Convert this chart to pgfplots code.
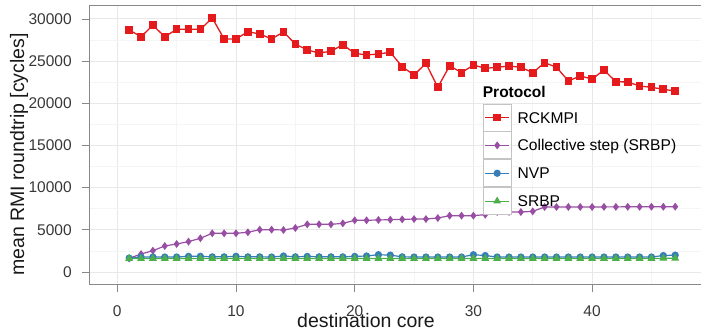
\documentclass[border=0pt]{standalone}
\usepackage{pgfplots}
\pgfplotsset{compat=1.18}
\usepackage{fontspec}
\setmainfont{Liberation Sans}
\definecolor{cRed}{HTML}{E41A1C}
\definecolor{cPurple}{HTML}{984EA3}
\definecolor{cBlue}{HTML}{377EB8}
\definecolor{cGreen}{HTML}{4DAF4A}
\definecolor{cBorder}{HTML}{888888}
\definecolor{cKey}{HTML}{C4C4C4}

\pgfplotstableread{
x y
1 28700
2 27900
3 29250
4 27900
5 28770
6 28770
7 28770
8 30115
9 27630
10 27630
11 28490
12 28220
13 27630
14 28460
15 27030
16 26320
17 25970
18 26170
19 26950
20 25930
21 25730
22 25850
23 26050
24 24340
25 23360
26 24740
27 21900
28 24460
29 23630
30 24540
31 24150
32 24270
33 24420
34 24270
35 23630
36 24820
37 24270
38 22650
39 23240
40 22880
41 23950
42 22560
43 22530
44 22050
45 21900
46 21660
47 21460
}\rckmpi

\pgfplotstableread{
x y
1 1620
2 2130
3 2530
4 3080
5 3320
6 3600
7 4000
8 4590
9 4590
10 4590
11 4710
12 5020
13 5020
14 4980
15 5220
16 5650
17 5650
18 5650
19 5770
20 6130
21 6130
22 6170
23 6200
24 6240
25 6280
26 6280
27 6400
28 6680
29 6680
30 6680
31 6800
32 7110
33 7110
34 7110
35 7190
36 7710
37 7710
38 7710
39 7710
40 7710
41 7720
42 7720
43 7730
44 7730
45 7740
46 7740
47 7750
}\collective

\pgfplotstableread{
x y
1 1650
2 1780
3 1780
4 1780
5 1780
6 1860
7 1860
8 1800
9 1800
10 1860
11 1800
12 1800
13 1780
14 1900
15 1800
16 1850
17 1800
18 1800
19 1800
20 1850
21 1900
22 2050
23 2000
24 1800
25 1780
26 1780
27 1780
28 1780
29 1780
30 2050
31 1950
32 1780
33 1780
34 1780
35 1780
36 1780
37 1780
38 1780
39 1780
40 1780
41 1780
42 1780
43 1780
44 1780
45 1780
46 1950
47 2000
}\nvp

\pgfplotstableread{
x y
1 1600
2 1580
3 1600
4 1600
5 1600
6 1600
7 1600
8 1600
9 1600
10 1600
11 1600
12 1600
13 1590
14 1600
15 1600
16 1600
17 1600
18 1600
19 1600
20 1600
21 1600
22 1600
23 1600
24 1600
25 1580
26 1600
27 1600
28 1600
29 1600
30 1600
31 1600
32 1600
33 1600
34 1600
35 1600
36 1590
37 1600
38 1600
39 1600
40 1600
41 1600
42 1600
43 1600
44 1600
45 1600
46 1620
47 1620
}\srbp

\begin{document}
\begin{tikzpicture}
\useasboundingbox (0pt,0pt) rectangle (701pt,330pt);
\begin{axis}[
  at={(89.4pt,45.3pt)}, anchor=south west,
  scale only axis, width=613.7pt, height=279.4pt,
  xmin=-2.35, xmax=49.35, ymin=-1506, ymax=31621,
  xtick={0,10,20,30,40}, ytick={0,5000,10000,15000,20000,25000,30000},
  minor xtick={5,15,25,35,45}, minor ytick={2500,7500,12500,17500,22500,27500},
  grid=both,
  major grid style={color=black!9, line width=1pt},
  minor grid style={color=black!4, line width=0.6pt},
  axis line style={cBorder, line width=0.9pt},
  tick pos=left, tick align=outside,
  major tick length=7.5pt, minor tick length=0pt,
  every tick/.style={cBorder, line width=0.9pt},
  scaled ticks=false,
  /pgf/number format/1000 sep={},
  /pgf/number format/assume math mode=true,
  tick label style={font=\fontsize{15.5}{18}\selectfont, text=black!78},
  yticklabel style={anchor=east, inner sep=0pt, xshift=-10pt},
  xticklabel style={anchor=north, inner sep=0pt, yshift=-13pt},
  legend style={at={(0.6409,0.6485)}, anchor=north west, draw=none, fill=none,
    inner sep=0pt, outer sep=0pt, row sep=0pt, column sep=6pt,
    font=\fontsize{15.6}{18}\selectfont,
    nodes={inner sep=0pt, text height=11.2pt, text depth=0pt}},
  legend cell align=left,
  legend image code/.code={
    \draw[draw=cKey, line width=0.9pt, fill=white, solid] (0pt,-13.5pt) rectangle (28pt,13.5pt);
    \draw[mark repeat=2, mark phase=2] plot coordinates {(2pt,0pt) (14pt,0pt) (26pt,0pt)};
  },
]
\addplot[cRed, line width=1.3pt, mark=square*, mark size=3.2pt, mark options={solid}] table[x=x,y=y] {\rckmpi};
\addlegendentry{RCKMPI}
\addplot[cPurple, line width=1.2pt, mark=diamond*, mark size=3pt, mark options={solid}] table[x=x,y=y] {\collective};
\addlegendentry{Collective step (SRBP)}
\addplot[cBlue, line width=1.2pt, mark=*, mark size=3pt, mark options={solid}] table[x=x,y=y] {\nvp};
\addlegendentry{NVP}
\addplot[cGreen, line width=1.2pt, mark=triangle*, mark size=3.4pt, mark options={solid}] table[x=x,y=y] {\srbp};
\addlegendentry{SRBP}
\end{axis}
\node[anchor=base west, inner sep=0pt, font=\fontsize{15.5}{18}\selectfont\bfseries] at (482.7pt,233pt) {Protocol};
\node[anchor=base, inner sep=0pt, font=\fontsize{19.5}{22}\selectfont, text=black!90] at (366pt,3pt) {destination core};
\node[anchor=base, inner sep=0pt, rotate=90, font=\fontsize{19.5}{22}\selectfont, text=black!90] at (24pt,175.5pt) {mean RMI roundtrip [cycles]};
\end{tikzpicture}
\end{document}
